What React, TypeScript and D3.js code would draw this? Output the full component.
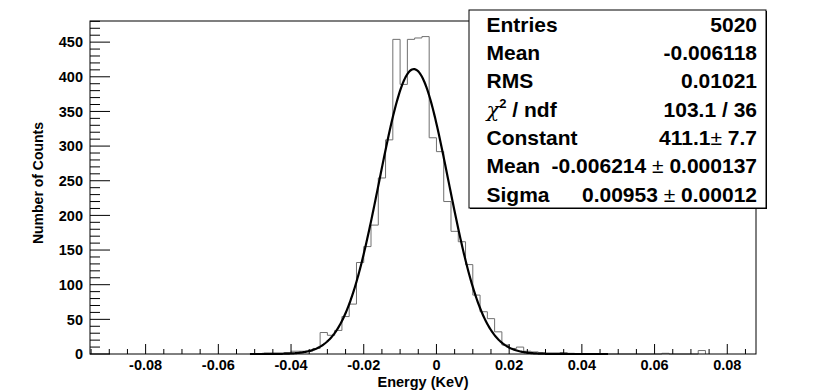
import React from "react";
import * as d3 from "d3";

// ---- data ----
const binLows = [
  -0.048, -0.046, -0.044, -0.042, -0.040, -0.038, -0.036, -0.034, -0.032, -0.030,
  -0.028, -0.026, -0.024, -0.022, -0.020, -0.018, -0.016, -0.014, -0.012, -0.010,
  -0.008, -0.006, -0.004, -0.002, 0.000, 0.002, 0.004, 0.006, 0.008, 0.010,
  0.012, 0.014, 0.016, 0.018, 0.020, 0.022, 0.024, 0.026, 0.028, 0.030,
  0.032, 0.034, 0.036, 0.062, 0.072,
];
const binCounts = [
  1, 1, 1, 2, 4, 4, 4, 8, 31, 27,
  34, 54, 72, 132, 155, 186, 254, 309, 454, 389,
  454, 456, 458, 312, 292, 220, 177, 162, 129, 85,
  61, 51, 32, 13, 8, 10, 4, 3, 2, 1,
  1, 2, 1, 1, 5,
];
const binWidth = 0.002;

const xTicks = [-0.08, -0.06, -0.04, -0.02, 0, 0.02, 0.04, 0.06, 0.08];
const xTickLabels = ["-0.08", "-0.06", "-0.04", "-0.02", "0", "0.02", "0.04", "0.06", "0.08"];
const yTicks = [0, 50, 100, 150, 200, 250, 300, 350, 400, 450];

const fitConstant = 411.1;
const fitMean = -0.006214;
const fitSigma = 0.00953;
const fitRange = [-0.0513, 0.0472];

const statLabels = ["Entries", "Mean", "RMS", "CHI", "Constant", "Mean", "Sigma"];
const statValues = [
  ["5020"],
  ["-0.006118"],
  ["0.01021"],
  ["103.1 / 36"],
  ["411.1", "7.7"],
  ["-0.006214", "0.000137"],
  ["0.00953", "0.00012"],
];

// ---- layout ----
const W = 823;
const H = 390;
const frame = { left: 90, right: 756, top: 21, bottom: 354 };
const xDomain = [-0.0953, 0.0879];
const yDomain = [0, 480.5];

const font = "'Liberation Sans', Arial, Helvetica, sans-serif";

export default function App() {
  const x = d3.scaleLinear().domain(xDomain).range([frame.left, frame.right]);
  const y = d3.scaleLinear().domain(yDomain).range([frame.bottom, frame.top]);

  // histogram outline
  const y0 = y(0);
  let hp = "";
  let prevHigh: number | null = null;
  binLows.forEach((lo, i) => {
    const hi = lo + binWidth;
    const yc = y(binCounts[i]);
    if (prevHigh === null) {
      hp += `M${x(lo)},${y0}`;
    } else if (Math.abs(prevHigh - lo) > 1e-9) {
      hp += `L${x(prevHigh)},${y0}L${x(lo)},${y0}`;
    }
    hp += `L${x(lo)},${yc}L${x(hi)},${yc}`;
    prevHigh = hi;
  });
  if (prevHigh !== null) hp += `L${x(prevHigh)},${y0}`;

  // fit curve
  const gauss = (v: number) =>
    fitConstant * Math.exp(-0.5 * ((v - fitMean) / fitSigma) ** 2);
  const xs = d3.range(0, 401).map((i) => fitRange[0] + ((fitRange[1] - fitRange[0]) * i) / 400);
  const line = d3
    .line<number>()
    .x((v) => x(v))
    .y((v) => y(gauss(v)))
    .curve(d3.curveLinear);
  const fitPath = line(xs) || "";

  // minor ticks
  const xMinor = d3.range(-95, 88, 5).map((v) => v / 1000).filter((v) => v >= xDomain[0] && v <= xDomain[1]);
  const yMinor = d3.range(0, 481, 10);

  // stats box
  const box = { x: 469, y: 10, w: 297, h: 198 };
  const rowY = [31.7, 60, 88.3, 116.7, 145, 173.3, 201.7];
  const fs = 21;

  return (
    <svg width={W} height={H} style={{ display: "block", position: "absolute", left: 0, top: 0 }} fontFamily={font}>
      <rect x={0} y={0} width={W} height={H} fill="#fff" />
      {/* histogram */}
      <path d={hp} fill="none" stroke="#707070" strokeWidth={1} />
      {/* fit */}
      <path d={fitPath} fill="none" stroke="#000" strokeWidth={2.2} />
      {/* frame */}
      <rect x={frame.left} y={frame.top} width={frame.right - frame.left} height={frame.bottom - frame.top} fill="none" stroke="#000" strokeWidth={1} />
      {/* x ticks */}
      {xMinor.map((v, i) => {
        const major = xTicks.some((t) => Math.abs(t - v) < 1e-9);
        return (
          <line key={"xm" + i} x1={x(v)} x2={x(v)} y1={frame.bottom} y2={frame.bottom - (major ? 10 : 5)} stroke="#000" strokeWidth={1} />
        );
      })}
      {xTicks.map((t, i) => (
        <text key={"xl" + i} x={x(t)} y={369.5} textAnchor="middle" fontSize={14.5} fontWeight="bold">
          {xTickLabels[i]}
        </text>
      ))}
      {/* y ticks */}
      {yMinor.map((v, i) => {
        const major = yTicks.includes(v);
        return (
          <line key={"ym" + i} x1={frame.left} x2={frame.left + (major ? 20 : 10)} y1={y(v)} y2={y(v)} stroke="#000" strokeWidth={1} />
        );
      })}
      {yTicks.map((t, i) => (
        <text key={"yl" + i} x={83} y={y(t) + 5.3} textAnchor="end" fontSize={14.5} fontWeight="bold">
          {String(t)}
        </text>
      ))}
      {/* axis titles */}
      <text x={(frame.left + frame.right) / 2} y={386.5} textAnchor="middle" fontSize={14.5} fontWeight="bold">
        Energy (KeV)
      </text>
      <text transform={`translate(42.5,183) rotate(-90)`} textAnchor="middle" fontSize={14} fontWeight="bold">
        Number of Counts
      </text>
      {/* stats box */}
      <rect x={box.x + 1} y={box.y + 1} width={box.w} height={box.h} fill="#000" />
      <rect x={box.x} y={box.y} width={box.w} height={box.h} fill="#fff" stroke="#000" strokeWidth={1} />
      {statLabels.map((lab, i) => (
        <text key={"sl" + i} x={486.5} y={rowY[i]} fontSize={fs} fontWeight="bold">
          {lab === "CHI" ? (
            <>
              <tspan fontFamily="'DejaVu Serif', 'Liberation Serif', serif" fontWeight="normal" fontStyle="italic">χ</tspan>
              <tspan fontSize={13} dy={-9}>2</tspan>
              <tspan dy={9}> / ndf</tspan>
            </>
          ) : (
            lab
          )}
        </text>
      ))}
      {statValues.map((vals, i) => (
        <text key={"sv" + i} x={757} y={rowY[i]} fontSize={fs} fontWeight="bold" textAnchor="end">
          {vals.length === 1 ? (
            vals[0]
          ) : (
            <>
              {vals[0]}
              <tspan fontWeight="normal">{i === 4 ? "± " : " ± "}</tspan>
              {vals[1]}
            </>
          )}
        </text>
      ))}
    </svg>
  );
}
